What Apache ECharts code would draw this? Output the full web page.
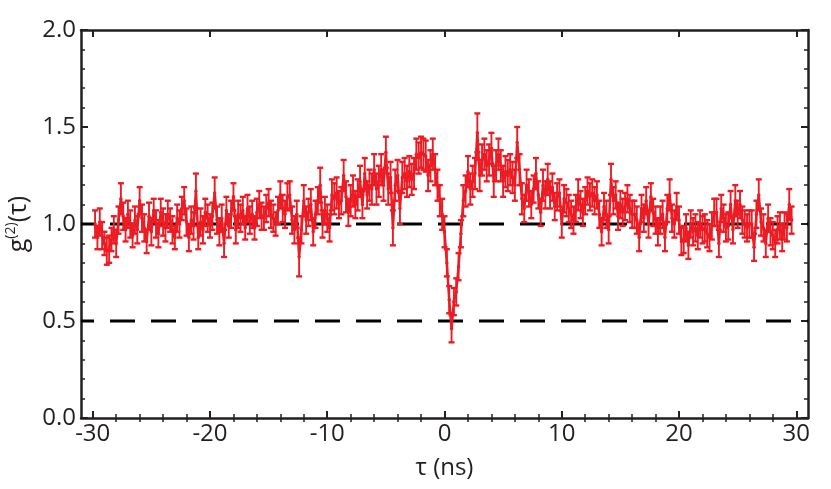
<!DOCTYPE html>
<html>
<head>
<meta charset="utf-8">
<script src="https://cdn.jsdelivr.net/npm/echarts@6/dist/echarts.min.js"></script>
<style>html,body{margin:0;padding:0;background:#fff;}#chart{width:831px;height:489px;}</style>
</head>
<body>
<div id="chart"></div>
<script>
// ---- data ----
const tau = [
-29.8,-29.6,-29.4,-29.2,-29.0,-28.8,-28.6,-28.4,-28.2,-28.0,
-27.8,-27.6,-27.4,-27.2,-27.0,-26.8,-26.6,-26.4,-26.2,-26.0,
-25.8,-25.6,-25.4,-25.2,-25.0,-24.8,-24.6,-24.4,-24.2,-24.0,
-23.8,-23.6,-23.4,-23.2,-23.0,-22.8,-22.6,-22.4,-22.2,-22.0,
-21.8,-21.6,-21.4,-21.2,-21.0,-20.8,-20.6,-20.4,-20.2,-20.0,
-19.8,-19.6,-19.4,-19.2,-19.0,-18.8,-18.6,-18.4,-18.2,-18.0,
-17.8,-17.6,-17.4,-17.2,-17.0,-16.8,-16.6,-16.4,-16.2,-16.0,
-15.8,-15.6,-15.4,-15.2,-15.0,-14.8,-14.6,-14.4,-14.2,-14.0,
-13.8,-13.6,-13.4,-13.2,-13.0,-12.8,-12.6,-12.4,-12.2,-12.0,
-11.8,-11.6,-11.4,-11.2,-11.0,-10.8,-10.6,-10.4,-10.2,-10.0,
-9.8,-9.6,-9.4,-9.2,-9.0,-8.8,-8.6,-8.4,-8.2,-8.0,
-7.8,-7.6,-7.4,-7.2,-7.0,-6.8,-6.6,-6.4,-6.2,-6.0,
-5.8,-5.6,-5.4,-5.2,-5.0,-4.8,-4.6,-4.4,-4.2,-4.0,
-3.8,-3.6,-3.4,-3.2,-3.0,-2.8,-2.6,-2.4,-2.2,-2.0,
-1.8,-1.6,-1.4,-1.2,-1.0,-0.8,-0.6,-0.4,-0.2,0.0,
0.2,0.4,0.6,0.8,1.0,1.2,1.4,1.6,1.8,2.0,
2.2,2.4,2.6,2.8,3.0,3.2,3.4,3.6,3.8,4.0,
4.2,4.4,4.6,4.8,5.0,5.2,5.4,5.6,5.8,6.0,
6.2,6.4,6.6,6.8,7.0,7.2,7.4,7.6,7.8,8.0,
8.2,8.4,8.6,8.8,9.0,9.2,9.4,9.6,9.8,10.0,
10.2,10.4,10.6,10.8,11.0,11.2,11.4,11.6,11.8,12.0,
12.2,12.4,12.6,12.8,13.0,13.2,13.4,13.6,13.8,14.0,
14.2,14.4,14.6,14.8,15.0,15.2,15.4,15.6,15.8,16.0,
16.2,16.4,16.6,16.8,17.0,17.2,17.4,17.6,17.8,18.0,
18.2,18.4,18.6,18.8,19.0,19.2,19.4,19.6,19.8,20.0,
20.2,20.4,20.6,20.8,21.0,21.2,21.4,21.6,21.8,22.0,
22.2,22.4,22.6,22.8,23.0,23.2,23.4,23.6,23.8,24.0,
24.2,24.4,24.6,24.8,25.0,25.2,25.4,25.6,25.8,26.0,
26.2,26.4,26.6,26.8,27.0,27.2,27.4,27.6,27.8,28.0,
28.2,28.4,28.6,28.8,29.0,29.2,29.4,29.6
];
const g2 = [
1.00,0.93,1.01,0.94,0.90,0.86,0.87,0.92,0.97,0.90,
1.02,1.13,1.04,0.97,1.05,1.00,0.94,1.02,0.97,1.12,
1.03,0.98,0.91,1.04,0.96,1.07,1.00,0.95,1.06,1.01,
0.98,1.05,1.02,0.97,0.93,1.03,1.00,1.08,1.12,1.01,
0.93,1.02,0.99,1.17,0.93,1.01,0.97,1.06,1.03,0.99,
1.04,1.16,1.02,0.96,1.03,0.90,1.07,0.99,1.05,1.14,
0.97,1.05,1.03,1.07,0.98,1.08,1.02,1.05,0.98,1.06,
1.10,1.04,1.03,1.08,1.11,1.05,1.03,1.00,1.07,1.15,
1.08,1.05,1.14,1.15,1.02,0.97,1.05,0.83,0.97,1.12,
1.02,1.06,1.10,0.96,1.05,1.12,1.20,1.00,1.07,1.03,
0.98,1.15,1.13,1.16,1.10,1.12,1.25,1.14,1.06,1.12,
1.17,1.10,1.15,1.22,1.10,1.26,1.15,1.20,1.18,1.28,
1.18,1.22,1.28,1.20,1.37,1.18,1.24,0.98,1.20,1.25,
1.08,1.24,1.26,1.22,1.27,1.23,1.26,1.36,1.34,1.37,
1.36,1.35,1.25,1.30,1.36,1.28,1.20,1.12,1.05,0.96,
0.80,0.61,0.46,0.60,0.65,0.78,0.95,1.12,1.17,1.27,
1.18,1.22,1.26,1.47,1.25,1.33,1.36,1.30,1.33,1.39,
1.22,1.30,1.36,1.30,1.22,1.27,1.25,1.28,1.24,1.20,
1.42,1.28,1.13,1.08,1.20,1.16,1.10,1.18,1.26,1.15,
1.06,1.20,1.15,1.23,1.15,1.19,1.09,1.14,1.16,1.00,
1.13,1.11,1.08,1.05,1.02,1.08,1.15,1.10,1.06,1.12,
1.17,1.14,1.16,1.12,1.15,1.05,0.96,1.09,1.05,0.97,
1.23,1.12,1.15,1.04,1.10,1.06,1.09,1.13,1.08,1.05,
1.05,1.02,0.93,1.08,1.03,1.12,1.00,1.14,1.06,1.02,
0.96,1.02,1.05,0.93,1.08,1.15,1.03,1.00,1.09,1.02,
0.91,0.92,0.98,0.89,1.00,0.96,0.98,0.94,1.00,0.97,
0.98,0.95,0.93,0.99,1.06,1.06,0.90,1.08,1.03,0.98,
0.99,1.10,0.97,1.12,1.05,1.10,1.02,1.00,0.98,1.00,
1.00,0.88,1.05,1.15,1.01,0.98,0.90,1.03,0.96,0.94,
0.90,0.97,0.99,0.93,0.99,0.98,1.10,1.02
];
const g2err = [
0.07,0.06,0.07,0.07,0.06,0.07,0.07,0.06,0.07,0.07,
0.07,0.08,0.07,0.06,0.07,0.07,0.06,0.07,0.07,0.07,
0.07,0.07,0.06,0.07,0.07,0.06,0.07,0.07,0.07,0.07,
0.07,0.07,0.06,0.07,0.06,0.07,0.07,0.06,0.07,0.07,
0.07,0.07,0.07,0.09,0.06,0.07,0.07,0.07,0.07,0.06,
0.07,0.08,0.07,0.07,0.07,0.07,0.07,0.06,0.07,0.07,
0.07,0.07,0.07,0.07,0.06,0.07,0.07,0.07,0.06,0.07,
0.07,0.07,0.06,0.07,0.07,0.07,0.07,0.06,0.07,0.07,
0.07,0.07,0.07,0.07,0.07,0.07,0.07,0.10,0.07,0.08,
0.07,0.07,0.08,0.07,0.07,0.07,0.09,0.07,0.07,0.07,
0.07,0.08,0.08,0.08,0.07,0.07,0.08,0.08,0.07,0.08,
0.08,0.07,0.08,0.08,0.07,0.08,0.07,0.08,0.08,0.08,
0.08,0.08,0.08,0.08,0.08,0.08,0.08,0.09,0.08,0.08,
0.08,0.08,0.08,0.08,0.08,0.08,0.08,0.08,0.08,0.08,
0.08,0.08,0.08,0.08,0.08,0.08,0.08,0.08,0.08,0.08,
0.07,0.07,0.07,0.07,0.07,0.07,0.07,0.08,0.08,0.08,
0.08,0.08,0.08,0.10,0.08,0.08,0.08,0.08,0.08,0.08,
0.08,0.08,0.08,0.08,0.08,0.08,0.08,0.08,0.08,0.08,
0.08,0.08,0.08,0.07,0.08,0.07,0.07,0.07,0.08,0.07,
0.07,0.08,0.07,0.08,0.07,0.07,0.07,0.07,0.07,0.07,
0.07,0.07,0.07,0.07,0.07,0.07,0.08,0.07,0.07,0.07,
0.07,0.07,0.07,0.07,0.07,0.07,0.07,0.07,0.07,0.07,
0.08,0.07,0.07,0.07,0.07,0.07,0.07,0.07,0.07,0.07,
0.07,0.07,0.07,0.07,0.07,0.07,0.07,0.07,0.07,0.07,
0.07,0.07,0.07,0.07,0.07,0.08,0.07,0.07,0.07,0.07,
0.07,0.07,0.07,0.07,0.07,0.07,0.07,0.07,0.07,0.07,
0.07,0.07,0.07,0.07,0.07,0.07,0.07,0.07,0.07,0.07,
0.07,0.07,0.07,0.08,0.07,0.07,0.07,0.07,0.07,0.07,
0.07,0.07,0.07,0.08,0.07,0.07,0.07,0.07,0.07,0.07,
0.07,0.07,0.07,0.07,0.07,0.07,0.08,0.07
];
const refLevels = [1.0, 0.5];
const xMajorTicks = [-30, -20, -10, 0, 10, 20, 30];
const xMinorTicks = [-28,-26,-24,-22,-18,-16,-14,-12,-8,-6,-4,-2,2,4,6,8,12,14,16,18,22,24,26,28];
const xRange = [-31, 31];
const yRange = [0, 2];

// ---- chart ----
const RED = '#ec1c24';
const INK = '#231f20';
const FONT = 'Open Sans';
const chart = echarts.init(document.getElementById('chart'), null, {renderer: 'canvas'});

const lineData = tau.map((t, i) => [t, g2[i]]);
const errData = tau.map((t, i) => [t, g2[i] - g2err[i], g2[i] + g2err[i]]);

function baseX(extra) {
  return Object.assign({
    type: 'value', min: xRange[0], max: xRange[1],
    splitLine: {show: false},
    axisLine: {show: false},
    axisLabel: {show: false},
    axisTick: {show: false}
  }, extra);
}
function baseY(extra) {
  return Object.assign({
    type: 'value', min: yRange[0], max: yRange[1], interval: 0.5,
    splitLine: {show: false},
    axisLine: {show: true, onZero: false, lineStyle: {color: INK, width: 2.5}},
    axisTick: {show: true, inside: true, length: 7, lineStyle: {color: INK, width: 2}},
    minorTick: {show: true, splitNumber: 5, length: 4, lineStyle: {color: INK, width: 1.5}},
    axisLabel: {show: false}
  }, extra);
}

const option = {
  backgroundColor: '#fff',
  animation: false,
  grid: {left: 81, right: 23, top: 30, bottom: 71, containLabel: false, outerBoundsMode: 'none'},
  xAxis: [
    baseX({
      position: 'bottom',
      axisLine: {show: true, onZero: false, lineStyle: {color: INK, width: 2.5}},
      axisTick: {show: true, inside: true, length: 7, customValues: xMajorTicks, lineStyle: {color: INK, width: 2}},
      axisLabel: {show: true, customValues: xMajorTicks, fontSize: 24, fontFamily: FONT, color: INK, margin: 4},
      name: 'τ (ns)', nameLocation: 'middle', nameGap: 38,
      nameTextStyle: {fontSize: 24, fontFamily: FONT, color: INK}
    }),
    baseX({
      position: 'bottom',
      axisTick: {show: true, inside: true, length: 4, customValues: xMinorTicks, lineStyle: {color: INK, width: 1.5}}
    }),
    baseX({
      position: 'top',
      axisLine: {show: true, onZero: false, lineStyle: {color: INK, width: 2.5}},
      axisTick: {show: true, inside: true, length: 7, customValues: xMajorTicks, lineStyle: {color: INK, width: 2}}
    }),
    baseX({
      position: 'top',
      axisTick: {show: true, inside: true, length: 4, customValues: xMinorTicks, lineStyle: {color: INK, width: 1.5}}
    })
  ],
  yAxis: [
    baseY({
      position: 'left',
      axisLabel: {show: true, fontSize: 24, fontFamily: FONT, color: INK, margin: 5,
        formatter: v => v.toFixed(1)},
      name: '{a|g}{b|(2)}{a|(τ)}', nameLocation: 'middle', nameGap: 37, nameRotate: 90,
      nameTextStyle: {
        color: INK, fontFamily: FONT,
        rich: {
          a: {fontSize: 25, fontFamily: FONT, color: INK, lineHeight: 30},
          b: {fontSize: 14, fontFamily: FONT, color: INK, verticalAlign: 'top', lineHeight: 16}
        }
      }
    }),
    baseY({position: 'right'})
  ],
  series: [
    ...refLevels.map(lv => ({
      type: 'line', xAxisIndex: 0, yAxisIndex: 0, z: 1,
      data: [[xRange[0], lv], [xRange[1], lv]],
      symbol: 'none', silent: true,
      lineStyle: {color: '#000', width: 3, type: [25, 16], dashOffset: 12}
    })),
    {
      type: 'custom', xAxisIndex: 0, yAxisIndex: 0, z: 3,
      data: errData,
      renderItem: function (params, api) {
        const x = api.value(0);
        const top = api.coord([x, api.value(2)]);
        const bot = api.coord([x, api.value(1)]);
        const w = 3;
        const st = {stroke: RED, lineWidth: 1.9};
        const cap = {stroke: RED, lineWidth: 2.4};
        return {
          type: 'group',
          children: [
            {type: 'line', shape: {x1: top[0], y1: top[1], x2: bot[0], y2: bot[1]}, style: st},
            {type: 'line', shape: {x1: top[0] - w, y1: top[1], x2: top[0] + w, y2: top[1]}, style: cap},
            {type: 'line', shape: {x1: bot[0] - w, y1: bot[1], x2: bot[0] + w, y2: bot[1]}, style: cap}
          ]
        };
      }
    },
    {
      type: 'line', xAxisIndex: 0, yAxisIndex: 0, z: 4,
      data: lineData,
      symbol: 'circle', symbolSize: 3.5, showSymbol: true,
      itemStyle: {color: RED},
      lineStyle: {color: RED, width: 2.5}
    }
  ]
};
chart.setOption(option);
</script>
</body>
</html>
